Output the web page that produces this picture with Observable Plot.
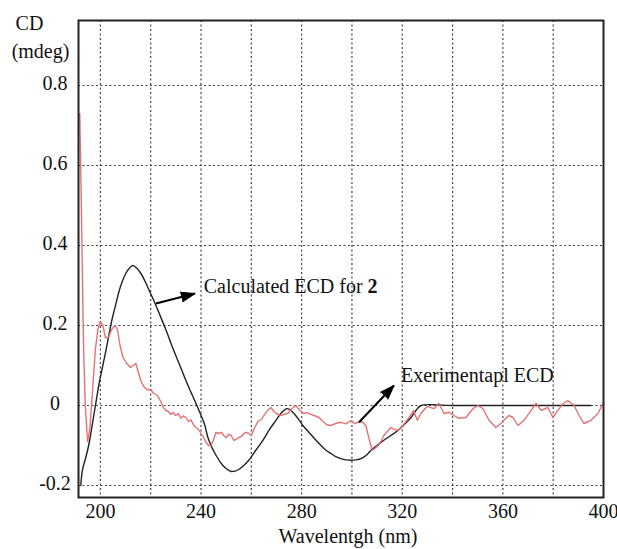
<!DOCTYPE html>
<html>
<head>
<meta charset="utf-8">
<script src="https://cdn.jsdelivr.net/npm/d3@7"></script>
<script src="https://cdn.jsdelivr.net/npm/@observablehq/plot@0.6"></script>
<style>
  html, body { margin: 0; padding: 0; background: #fff; }
  svg, svg text { font-family: "Liberation Serif", "Tinos", "Times New Roman", "DejaVu Serif", "Noto Serif", serif !important; }
</style>
</head>
<body>
<div id="chart"></div>
<script>
// ---- data ----
const expWl = [191.8,192.3,192.8,193.3,194.0,194.9,195.8,196.8,198.0,199.0,199.9,201.0,202.0,203.1,204.5,205.8,206.8,207.8,209.0,210.5,212.0,213.0,214.1,215.0,216.2,217.4,218.5,220.0,221.2,222.7,224.0,225.0,226.0,227.0,228.0,229.0,230.0,231.0,232.0,233.0,234.0,235.0,236.0,237.0,238.0,239.0,240.0,241.0,242.0,243.0,244.0,245.0,246.0,247.0,248.0,249.0,250.0,251.0,252.0,253.0,254.0,255.0,256.0,257.0,258.0,259.0,260.0,261.0,262.6,264.0,265.0,266.5,267.8,269.0,270.0,271.8,273.0,274.5,276.0,277.7,279.0,280.5,282.0,283.7,285.0,286.9,288.5,290.0,291.5,293.6,295.6,297.6,299.6,301.0,302.4,304.0,305.5,306.8,308.0,309.0,310.3,311.5,312.7,314.0,315.5,317.0,318.3,320.3,322.7,324.5,326.0,327.4,329.0,330.2,332.6,334.6,336.6,338.6,340.6,342.5,345.3,348.1,350.1,352.1,354.5,357.2,359.2,360.4,362.4,364.0,366.0,368.4,371.2,373.2,375.2,377.9,379.9,381.9,383.9,385.9,388.3,390.3,392.2,395.0,397.8,399.0,399.8];
const expCD = [0.73,0.55,0.35,0.15,0.0,-0.09,-0.06,0.03,0.14,0.19,0.21,0.2,0.17,0.17,0.19,0.2,0.19,0.15,0.12,0.105,0.095,0.1,0.105,0.085,0.06,0.046,0.04,0.04,0.03,0.025,0.01,-0.005,-0.012,-0.015,-0.022,-0.018,-0.025,-0.02,-0.032,-0.026,-0.03,-0.04,-0.036,-0.048,-0.055,-0.06,-0.07,-0.08,-0.092,-0.1,-0.1,-0.085,-0.067,-0.07,-0.067,-0.075,-0.08,-0.072,-0.075,-0.087,-0.085,-0.08,-0.078,-0.07,-0.067,-0.07,-0.075,-0.06,-0.04,-0.035,-0.025,-0.012,-0.005,-0.015,-0.02,-0.025,-0.022,-0.02,-0.008,0.0,-0.01,-0.02,-0.018,-0.022,-0.025,-0.03,-0.04,-0.048,-0.05,-0.045,-0.042,-0.046,-0.038,-0.045,-0.042,-0.04,-0.05,-0.083,-0.112,-0.108,-0.1,-0.09,-0.075,-0.065,-0.055,-0.06,-0.0625,-0.05,-0.03,-0.013,-0.037,-0.02,-0.008,-0.003,-0.008,0.005,-0.02,-0.017,-0.025,-0.032,-0.03,-0.008,0.0,-0.008,-0.037,-0.055,-0.045,-0.037,-0.025,-0.03,-0.05,-0.037,-0.012,0.005,-0.012,-0.005,-0.03,-0.012,0.005,0.012,0.0,-0.025,-0.045,-0.037,-0.02,-0.005,0.005];

const calcWl = [192.2,192.9,194.2,195.5,196.5,197.5,198.5,199.5,200.8,202.2,203.5,204.8,206.2,207.5,208.8,210.1,211.5,212.8,214.5,216.1,217.8,219.4,221.4,223.4,226.0,228.7,231.4,234.0,236.0,238.0,239.7,241.3,243.0,246.0,248.7,250.5,252.0,253.5,255.0,257.0,259.0,262.0,264.6,267.0,269.8,272.0,274.0,275.2,276.5,278.5,280.5,283.0,285.7,287.7,289.7,291.7,293.6,295.6,297.6,299.6,301.6,303.6,305.6,307.6,310.0,312.7,315.5,318.3,321.0,323.5,325.5,327.5,340.0,395.0];
const calcCD = [-0.2,-0.16,-0.13,-0.095,-0.058,-0.02,0.018,0.055,0.095,0.1375,0.18,0.22,0.255,0.2875,0.312,0.33,0.343,0.35,0.343,0.33,0.31,0.2875,0.26,0.23,0.19,0.145,0.103,0.0625,0.033,0.005,-0.02,-0.045,-0.085,-0.125,-0.15,-0.16,-0.165,-0.164,-0.16,-0.15,-0.137,-0.11,-0.087,-0.062,-0.037,-0.018,-0.008,-0.01,-0.017,-0.032,-0.05,-0.068,-0.087,-0.1,-0.112,-0.12,-0.128,-0.133,-0.136,-0.137,-0.136,-0.133,-0.125,-0.112,-0.1,-0.087,-0.075,-0.0625,-0.046,-0.03,-0.012,0.0,0.0,0.0];

const xTickLabels = [200, 240, 280, 320, 360, 400];
const xGrid = [200, 220, 240, 260, 280, 300, 320, 340, 360, 380];
const yTicks = [-0.2, 0, 0.2, 0.4, 0.6, 0.8];

const notes = [
  {text: "Calculated ECD for ", bold: "2", x: 241.1, y: 0.298, ax1: 222.1, ay1: 0.255, ax2: 237.6, ay2: 0.28},
  {text: "Exerimentapl ECD", bold: "", x: 319.5, y: 0.075, ax1: 302.8, ay1: -0.042, ax2: 316.7, ay2: 0.05}
];

// ---- layout ----
const W = 617, H = 549;
const mL = 78, mR = 14, mT = 20, mB = 52;
const xDom = [191.3, 400], yDom = [-0.23, 0.9625];
const kx = (W - mL - mR) / (xDom[1] - xDom[0]);
const ky = (H - mT - mB) / (yDom[1] - yDom[0]);
notes.forEach(n => {
  n.rot = Math.atan2((n.ax2 - n.ax1) * kx, (n.ay2 - n.ay1) * ky) * 180 / Math.PI;
});

const FF = "'Liberation Serif', Tinos, 'Times New Roman', 'DejaVu Serif', serif";
const expData = expWl.map((w, i) => ({w, v: expCD[i]}));
const calcData = calcWl.map((w, i) => ({w, v: calcCD[i]}));

const plot = Plot.plot({
  width: W, height: H,
  marginLeft: mL, marginRight: mR, marginTop: mT, marginBottom: mB,
  style: {fontFamily: FF, fontSize: "20px", background: "#fff", color: "#111"},
  x: {domain: xDom},
  y: {domain: yDom},
  marks: [
    Plot.gridX(xGrid, {stroke: "#444", strokeOpacity: 1, strokeWidth: 1.2, strokeDasharray: "2,2.5"}),
    Plot.gridY(yTicks, {stroke: "#444", strokeOpacity: 1, strokeWidth: 1.2, strokeDasharray: "2,2.5"}),
    Plot.axisX(xTickLabels, {tickSize: 0, tickPadding: 6, label: null, fontSize: 20, fontFamily: FF, fill: "#111"}),
    Plot.axisY(yTicks, {tickSize: 0, tickPadding: 23.5, textAnchor: "middle", dy: -2, label: null, fontSize: 20, fontFamily: FF, fill: "#111",
      tickFormat: d => d === 0 ? "0" : d.toFixed(1)}),
    Plot.line(calcData, {x: "w", y: "v", stroke: "#222", strokeWidth: 1.4, curve: "catmull-rom"}),
    Plot.line(expData, {x: "w", y: "v", stroke: "#e46a6a", strokeWidth: 1.4, strokeOpacity: 0.95}),
    Plot.link(notes, {x1: "ax1", y1: "ay1", x2: "ax2", y2: "ay2", stroke: "#000", strokeWidth: 2}),
    Plot.vector(notes, {x: "ax2", y: "ay2", anchor: "end", length: 14, r: 5, rotate: "rot", shape: "spike", fill: "#000", stroke: "#000", strokeWidth: 1}),
    Plot.text(notes, {x: "x", y: "y", text: "text", textAnchor: "start", lineAnchor: "middle", fontSize: 20, fontFamily: FF, fill: "#111"}),
    Plot.frame({stroke: "#222", strokeWidth: 2}),
    Plot.text(["CD"], {frameAnchor: "top-left", dx: -49, dy: 3, textAnchor: "middle", lineAnchor: "middle", fontSize: 20, fontFamily: FF, fill: "#111"}),
    Plot.text(["(mdeg)"], {frameAnchor: "top-left", dx: -38, dy: 31, textAnchor: "middle", lineAnchor: "middle", fontSize: 20, fontFamily: FF, fill: "#111"}),
    Plot.text(["Wavelentgh (nm)"], {frameAnchor: "bottom", dx: 7, dy: 39, textAnchor: "middle", lineAnchor: "middle", fontSize: 20, fontFamily: FF, fill: "#111"})
  ]
});

// add the bold compound number to the annotation
plot.querySelectorAll("text").forEach(t => {
  notes.forEach(n => {
    if (n.bold && t.textContent === n.text) {
      const ts = document.createElementNS("http://www.w3.org/2000/svg", "tspan");
      ts.setAttribute("font-weight", "bold");
      ts.textContent = n.bold;
      t.appendChild(ts);
    }
  });
});

document.getElementById("chart").appendChild(plot);
</script>
</body>
</html>
